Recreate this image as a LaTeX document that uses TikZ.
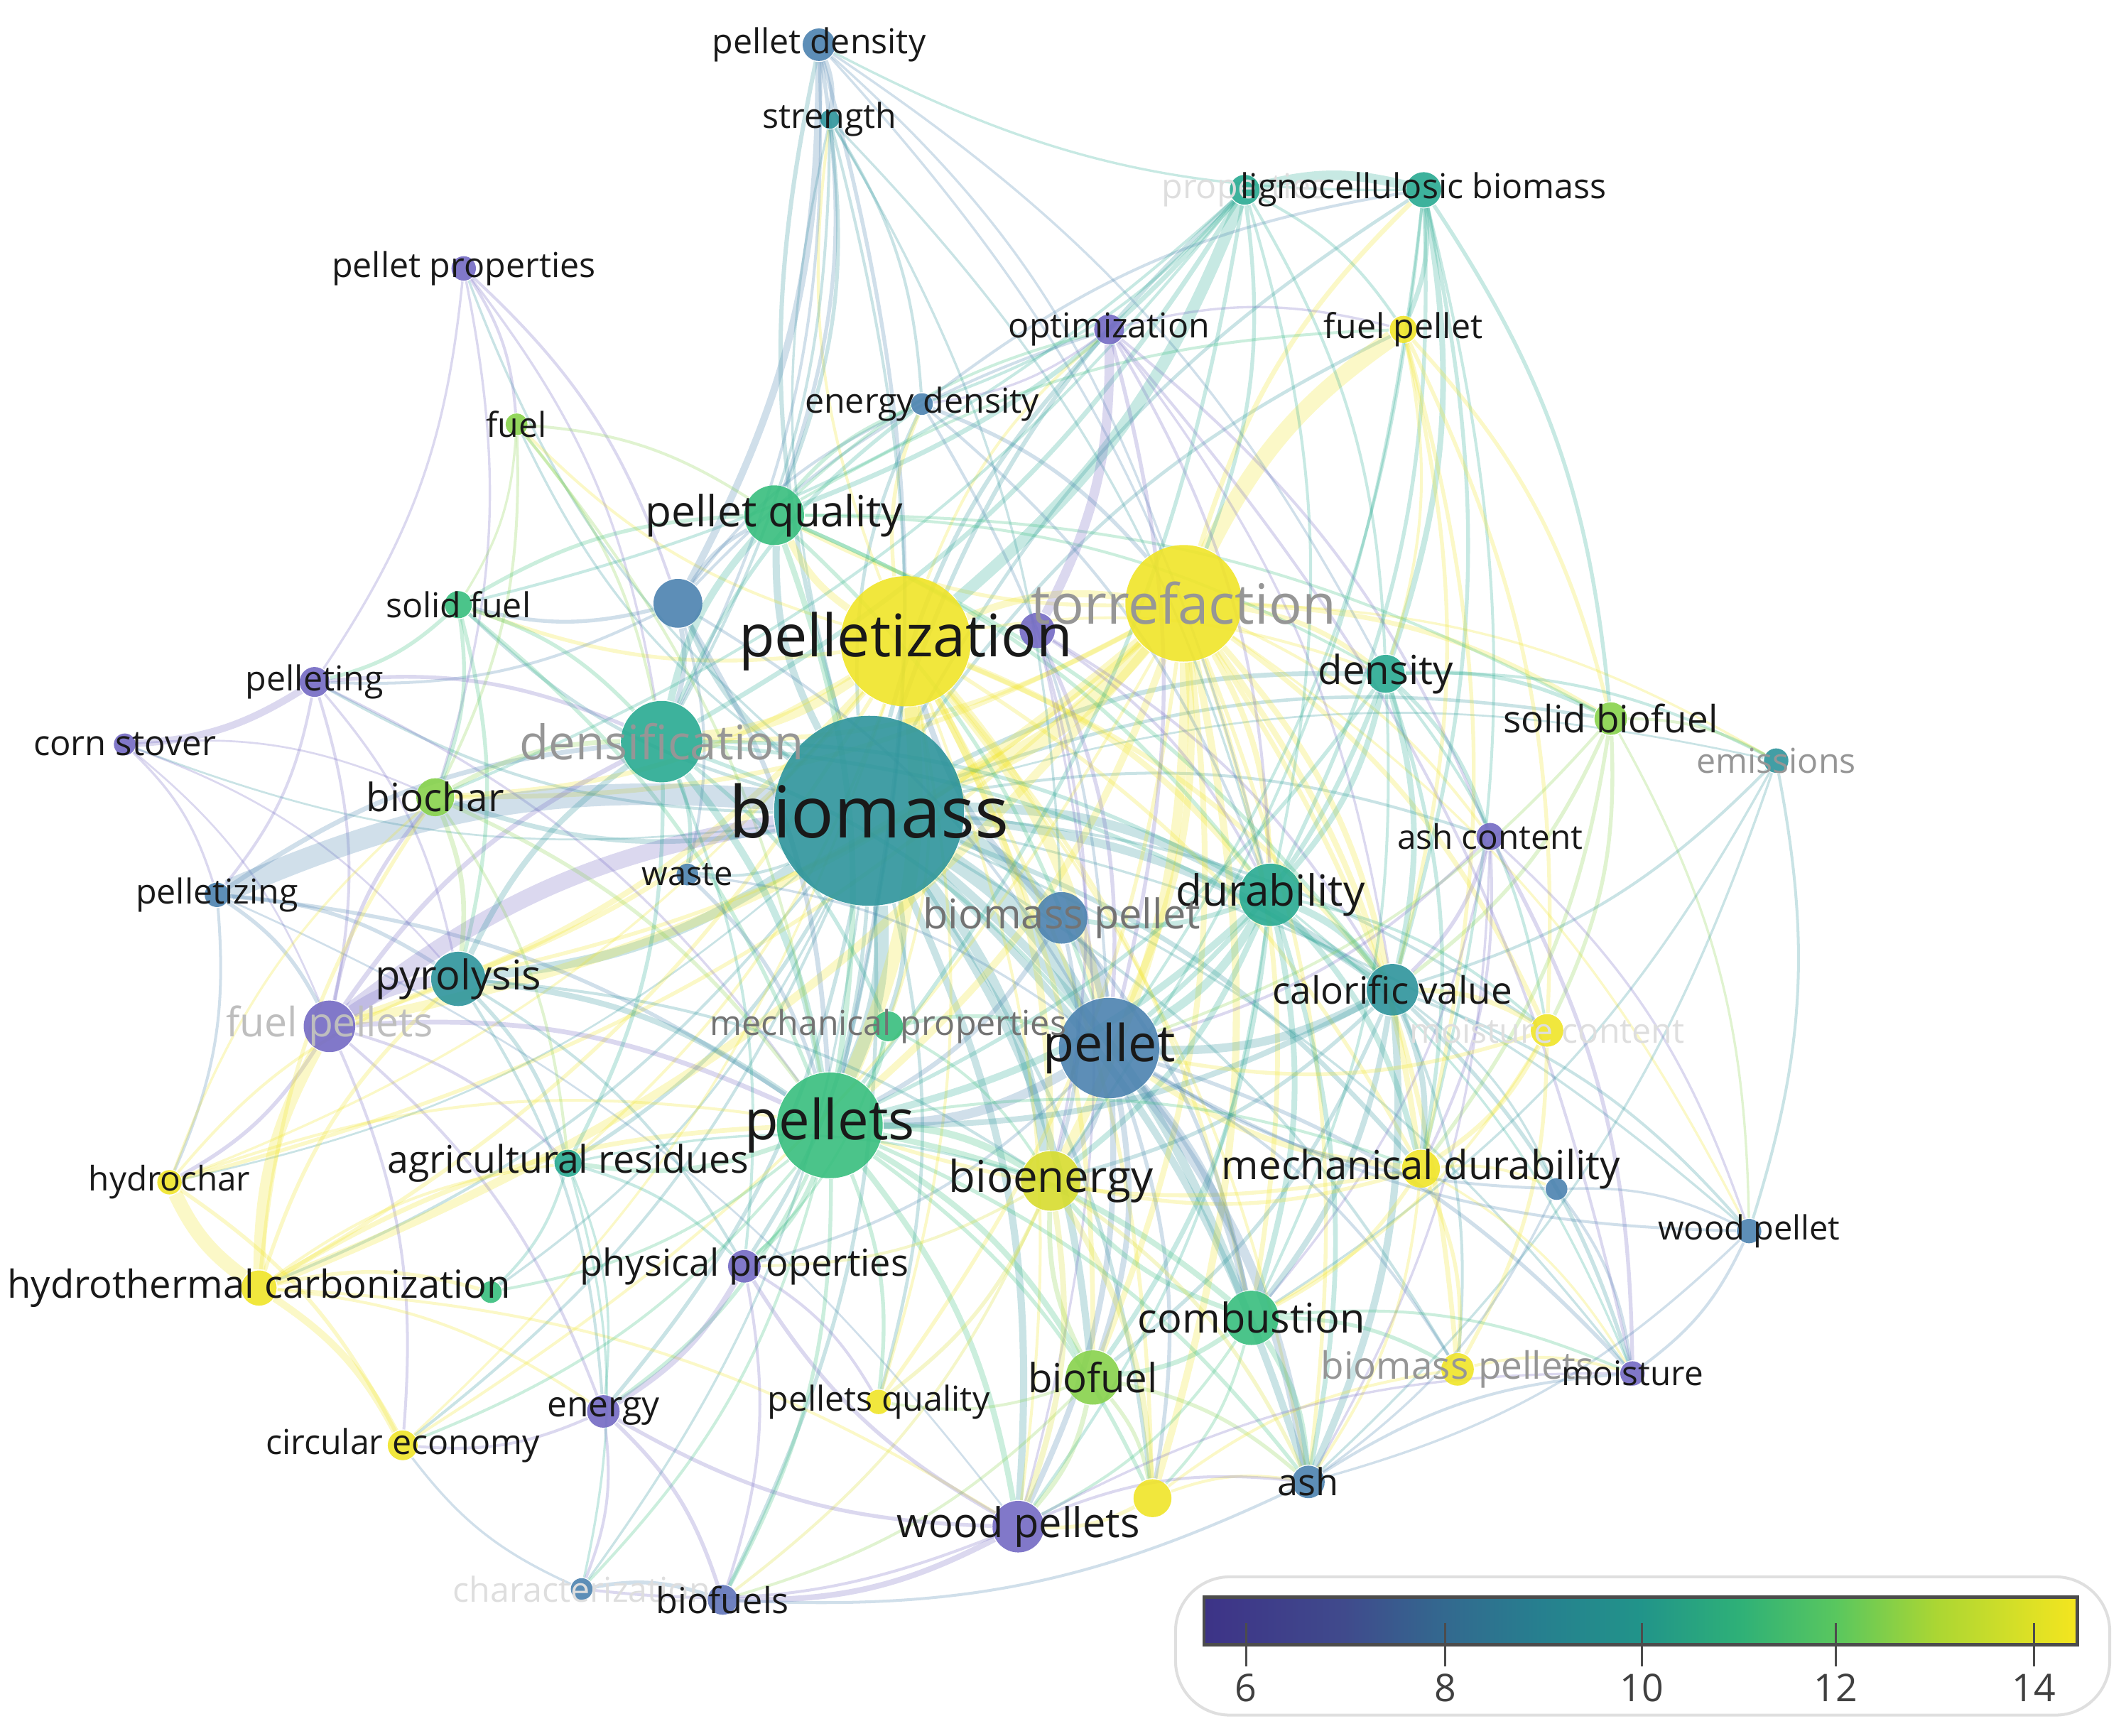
\documentclass[tikz,border=0pt]{standalone}
\usepackage{fontspec}
\setmainfont{Open Sans}
\usetikzlibrary{backgrounds}

% score colours (low = purple, high = yellow)
\definecolor{c1}{RGB}{115,105,195}
\definecolor{c2}{RGB}{95,115,185}
\definecolor{c3}{RGB}{75,130,175}
\definecolor{c4}{RGB}{45,148,155}
\definecolor{c5}{RGB}{40,170,145}
\definecolor{c6}{RGB}{55,190,125}
\definecolor{c7}{RGB}{135,210,75}
\definecolor{c8}{RGB}{215,220,45}
\definecolor{c9}{RGB}{240,228,40}
% label colours
\definecolor{tk}{RGB}{25,25,25}
\definecolor{tm}{RGB}{115,115,115}
\definecolor{tl}{RGB}{150,150,150}
\definecolor{tf}{RGB}{190,190,190}
\definecolor{tv}{RGB}{222,222,222}

\pgfdeclarehorizontalshading{viridis}{100bp}{rgb(0bp)=(0.24,0.2,0.53); rgb(25bp)=(0.24,0.2,0.53); rgb(33bp)=(0.25,0.29,0.55); rgb(38.7bp)=(0.2,0.41,0.56); rgb(44.3bp)=(0.15,0.5,0.56); rgb(50bp)=(0.13,0.58,0.54); rgb(55.6bp)=(0.18,0.69,0.47); rgb(61.2bp)=(0.35,0.78,0.37); rgb(66.9bp)=(0.67,0.84,0.2); rgb(75bp)=(0.96,0.9,0.12); rgb(100bp)=(0.96,0.9,0.12)}

\tikzset{
  kw/.style={circle, inner sep=0pt, draw=none, fill opacity=0.9},
  lk/.style={draw=#1, draw opacity=0.26, bend left=14},
  lab/.style={inner sep=0pt},
}

\begin{document}
\begin{tikzpicture}[x=0.01cm, y=-0.01cm]
\useasboundingbox (0,0) rectangle (1568,1280);

% keywords
\foreach \n/\x/\y/\r/\c in {
  pd/604/33/12/c3, str/612/88/7/c4, prop/918/140/11/c5, lig/1050/140/13/c5,
  pp/342/198/9/c1, opt/818/243/11/c1, fp/1035/243/10/c9, fuel/381/313/8/c7,
  ed/680/298/8/c3, pq/571/380/22/c6, ub/500/445/18/c3, sf/338/446/10/c6,
  plz/668/473/48/c9, up/765/465/13/c1, tor/873/445/43/c9, plt/232/503/11/c1,
  cs/92/549/8/c1, den/488/547/30/c5, bio/641/598/70/c4, dty/1022/497/14/c5,
  sbf/1188/530/12/c7, emi/1310/561/9/c4, bch/321/588/14/c7, pzg/160/660/9/c3,
  wst/507/645/8/c3, ac/1099/617/10/c1, bp/783/677/19/c3, dur/937/660/23/c5,
  pyr/338/722/20/c4, fps/243/757/19/c1, cv/1027/730/19/c4, mc/1141/760/12/c9,
  mp/655/757/11/c6, pel/818/773/37/c3, pels/612/830/39/c6, ar/419/858/10/c5,
  hc/125/872/9/c9, be/775/871/22/c8, md/1048/862/14/c9, ub2/1148/877/8/c3,
  wp/1290/908/9/c3, htc/191/950/13/c9, ug/362/953/8/c6, php/549/934/12/c1,
  com/923/972/20/c6, bf/806/1016/20/c7, bps/1075/1010/12/c9, moi/1204/1013/9/c1,
  ene/445/1041/12/c1, pqs/648/1034/9/c9, ce/297/1066/11/c9, uy/850/1105/14/c9,
  ash/965/1093/12/c3, wps/751/1126/19/c1, cha/429/1172/8/c3, bfs/533/1180/11/c2}
  \node[kw, fill=\c, minimum size=\r*0.2mm] (\n) at (\x,\y) {};

% links
\begin{scope}[on background layer]
\foreach \b/\w in {pd/0.9, str/0.5, prop/0.9, lig/0.7, pp/0.5, opt/0.9, fp/0.7, fuel/0.5, ed/0.7, pq/1.5, ub/1.2, sf/0.7, plt/0.6, cs/0.4, dty/1.0, sbf/0.7, emi/0.4, bch/1.0, wst/0.6, ac/0.6, bp/3.0, dur/2.0, pyr/2.0, cv/1.8, mc/0.6, mp/1.0, pel/3.5, pels/3.0, ar/0.8, hc/0.4, be/2.0, md/1.0, wp/0.5, htc/0.6, ug/0.5, php/0.8, com/1.8, bf/1.5, bps/0.6, moi/0.5, ene/0.8, pqs/0.7, ce/0.6, uy/0.8, ash/1.5, wps/1.5, cha/0.5, bfs/0.8}
  \draw[lk=c4, line width=\w pt] (bio) to (\b);
\foreach \b/\w in {bio/3.5, pq/1.5, den/2.0, pels/3.0, pel/2.5, dur/1.2, cv/1.0, tor/1.5, ed/0.8, str/0.6, fuel/0.6, sf/0.8, bch/1.0, pyr/1.0, fps/1.2, htc/0.8, be/1.5, bf/1.0, com/0.8, md/0.8, ar/0.6, wps/0.6, ash/0.6, mp/0.6, opt/0.6, dty/0.6, uy/0.8, pqs/0.6, ce/0.5, hc/0.5}
  \draw[lk=c9, line width=\w pt] (plz) to (\b);
\foreach \b/\w in {bio/3.5, fp/3.5, lig/1.0, dty/1.0, sbf/1.0, emi/0.5, mc/1.0, md/1.2, bps/1.0, cv/1.2, dur/1.2, pel/1.5, pels/1.5, be/2.0, com/1.0, htc/1.8, hc/0.8, fps/2.0, bch/1.0, pyr/0.8, uy/1.5, ce/0.6, pqs/0.8, ash/0.8, wp/0.5, bf/1.2, ac/0.6, den/1.0, pq/0.8}
  \draw[lk=c9, line width=\w pt] (tor) to (\b);
\foreach \a/\b/\c/\w in {
  prop/plz/c5/2.5, prop/lig/c5/2.0, prop/pq/c5/1.0, prop/den/c5/1.0, prop/sf/c5/0.6, prop/ed/c5/0.6,
  prop/fp/c5/0.6, prop/tor/c5/0.8, prop/dur/c5/0.6, prop/pels/c5/0.8, prop/dty/c5/0.6, prop/bch/c5/0.6,
  lig/fp/c5/1.0, lig/dty/c5/1.2, lig/sbf/c5/0.8, lig/cv/c5/0.8, lig/dur/c5/0.8, lig/pel/c5/0.6,
  lig/md/c5/0.6, lig/pd/c5/0.5, lig/be/c5/0.6,
  pd/str/c3/1.0, pd/ub/c3/1.5, pd/pq/c3/0.8, pd/pels/c3/0.8, pd/dty/c3/0.5, pd/tor/c3/0.5,
  pd/den/c3/0.6, pd/dur/c3/0.5, str/ed/c4/0.6, str/pq/c4/0.8, str/den/c4/0.6, str/pels/c4/0.6,
  str/bp/c4/0.5, str/dur/c4/0.5,
  pp/fuel/c1/0.6, pp/ub/c1/0.6, pp/plt/c1/0.5, pp/den/c1/0.5, pp/bch/c1/0.5,
  fuel/pq/c7/0.6, fuel/sf/c7/0.5, fuel/bch/c7/0.6, fuel/pels/c7/0.6, fuel/den/c7/0.6,
  ub/sf/c3/0.8, ub/opt/c3/0.6, ub/ed/c3/0.6, ub/pels/c3/1.0, ub/den/c3/1.0, ub/wst/c3/0.6,
  ub/plt/c3/0.6, ub/pq/c3/0.8, ub/pel/c3/0.6,
  sf/plt/c6/0.8, sf/bch/c6/0.8, sf/den/c6/0.8, sf/pyr/c6/0.8, sf/pels/c6/0.8, sf/pq/c6/0.8,
  plt/cs/c1/1.5, plt/den/c1/0.8, plt/pzg/c1/0.6, plt/fps/c1/0.6, plt/pels/c1/0.5, plt/pyr/c1/0.5,
  cs/pzg/c1/0.5, cs/bch/c1/0.4, cs/fps/c1/0.4, cs/pyr/c1/0.4,
  pzg/bio/c3/4.5, pzg/den/c3/1.0, pzg/fps/c3/0.8, pzg/pyr/c3/0.8, pzg/hc/c3/0.6, pzg/pels/c3/0.8,
  pzg/wps/c3/0.4,
  fps/bio/c1/3.5, fps/pyr/c1/2.5, fps/hc/c1/0.8, fps/den/c1/1.0, fps/pels/c1/1.0, fps/ar/c1/0.6,
  fps/ene/c1/0.6, fps/bch/c1/0.8, fps/ce/c1/0.6,
  htc/hc/c9/3.0, htc/fps/c9/2.5, htc/ce/c9/1.5, htc/ene/c9/0.6, htc/pyr/c9/0.8, htc/pels/c9/1.0,
  htc/ug/c9/0.8, htc/wps/c9/0.6, htc/ar/c9/0.6, htc/bch/c9/0.8,
  hc/ce/c9/0.8, hc/pyr/c9/0.6, hc/pels/c9/0.6, hc/bch/c9/0.5,
  bch/pyr/c7/1.0, bch/den/c7/1.0, bch/pels/c7/0.8, bch/ar/c7/0.6,
  pyr/den/c4/1.2, pyr/ar/c4/0.8, pyr/pels/c4/1.2, pyr/php/c4/0.6, pyr/ene/c4/0.6, pyr/be/c4/0.6,
  den/pq/c5/1.5, den/wst/c5/0.8, den/ar/c5/0.8, den/pels/c5/1.5, den/mp/c5/0.8, den/ed/c5/0.8,
  den/dur/c5/0.8, den/cv/c5/0.8, den/pel/c5/0.8, den/php/c5/0.6,
  pq/ed/c6/0.8, pq/opt/c6/0.6, pq/dty/c6/0.6, pq/dur/c6/0.8, pq/cv/c6/0.8, pq/pels/c6/1.2,
  pq/pel/c6/0.8, pq/sbf/c6/0.6, pq/fp/c6/0.6,
  opt/up/c1/2.0, opt/ac/c1/0.6, opt/moi/c1/0.6, opt/ed/c1/0.5, opt/pel/c1/0.8, opt/dur/c1/0.6,
  opt/cv/c1/0.5, opt/fp/c1/0.5,
  up/pel/c1/0.8, up/dur/c1/0.6, up/cv/c1/0.6, up/be/c1/0.6, up/wps/c1/0.5,
  ed/tor/c3/0.8, ed/pel/c3/0.6, ed/dur/c3/0.6, ed/lig/c3/0.6,
  fp/sbf/c9/0.8, fp/md/c9/0.8, fp/mc/c9/0.8, fp/cv/c9/0.8, fp/dty/c9/0.6}
  \draw[lk=\c, line width=\w pt] (\a) to (\b);
\foreach \a/\b/\c/\w in {
  dty/dur/c5/1.2, dty/cv/c5/1.2, dty/ac/c5/0.8, dty/sbf/c5/0.8, dty/emi/c5/0.6, dty/pel/c5/1.0,
  dty/md/c5/0.8, dty/com/c5/0.6, dty/pels/c5/0.8, dty/mc/c5/0.6,
  sbf/emi/c7/0.6, sbf/cv/c7/0.8, sbf/md/c7/0.8, sbf/mc/c7/0.8, sbf/pel/c7/0.6, sbf/wp/c7/0.5,
  emi/wp/c4/0.6, emi/cv/c4/0.6, emi/com/c4/0.5, emi/ash/c4/0.5,
  ac/cv/c1/0.8, ac/md/c1/0.6, ac/moi/c1/0.8, ac/wp/c1/0.5, ac/pel/c1/0.6, ac/com/c1/0.5, ac/ash/c1/0.5,
  dur/cv/c5/1.5, dur/md/c5/1.2, dur/com/c5/1.2, dur/ash/c5/1.0, dur/bf/c5/1.0, dur/be/c5/1.2,
  dur/pels/c5/1.5, dur/pel/c5/1.8, dur/bp/c5/1.0, dur/mc/c5/0.6, dur/moi/c5/0.5, dur/wps/c5/0.6,
  cv/md/c4/1.2, cv/com/c4/1.2, cv/ash/c4/1.5, cv/moi/c4/0.8, cv/mc/c9/1.0, cv/wp/c4/0.6,
  cv/pel/c4/1.8, cv/pels/c4/1.2, cv/bf/c4/0.8, cv/be/c4/0.8, cv/bps/c4/0.6, cv/ub2/c4/0.5,
  mc/md/c9/1.0, mc/bps/c9/0.8, mc/pel/c9/0.8, mc/com/c9/0.6,
  md/bps/c9/0.8, md/ub2/c9/0.6, md/com/c9/0.8, md/pel/c9/1.2, md/pels/c9/0.8, md/be/c9/0.8,
  md/ash/c9/0.6, md/moi/c9/0.5,
  ub2/moi/c3/0.6, ub2/wp/c3/0.5, ub2/pel/c3/0.6, ub2/ash/c3/0.5,
  wp/moi/c3/0.6, wp/ash/c3/0.5, wp/pel/c3/0.6,
  bp/pel/c3/2.5, bp/plz/c3/1.2, bp/com/c3/0.8, bp/be/c3/0.8, bp/pels/c3/1.0,
  mp/pels/c6/1.0, mp/pel/c6/0.8, mp/be/c6/0.6, mp/php/c6/0.5, wst/pels/c3/0.8, wst/pel/c3/0.5,
  pel/com/c3/1.5, pel/bf/c3/1.2, pel/be/c3/1.5, pel/ash/c3/2.0, pel/wps/c3/1.2, pel/moi/c3/0.8,
  pel/bps/c3/0.6, pel/uy/c3/0.8, pel/pels/c3/2.0, pel/php/c3/0.6,
  pels/be/c6/1.5, pels/com/c6/1.2, pels/bf/c6/1.2, pels/ar/c6/1.0, pels/php/c6/1.0, pels/ene/c6/0.8,
  pels/wps/c6/1.2, pels/ce/c6/0.6, pels/pqs/c6/0.8, pels/bfs/c6/0.8, pels/cha/c6/0.6, pels/ug/c6/0.6,
  pels/uy/c6/0.8, pels/ash/c6/0.8, pels/md/c6/0.6,
  ar/ug/c5/0.6, ar/php/c5/0.6, ar/cha/c5/0.5, ar/ene/c5/0.5, ar/be/c5/0.5,
  com/bf/c6/1.0, com/ash/c6/1.2, com/bps/c6/0.8, com/moi/c6/0.6, com/be/c6/1.0, com/uy/c6/0.6,
  com/wps/c6/0.6,
  bf/wps/c7/1.0, bf/uy/c7/0.8, bf/be/c7/1.0, bf/ash/c7/0.8, bf/pqs/c7/0.6, bf/bfs/c7/0.6,
  be/wps/c8/1.2, be/uy/c8/1.2, be/ash/c8/0.8, be/pqs/c8/0.8, be/php/c8/0.6, be/bfs/c8/0.6,
  uy/ash/c9/0.6, uy/wps/c9/0.8, uy/bps/c9/0.6,
  wps/bfs/c1/1.2, wps/php/c1/0.8, wps/ene/c1/0.8, wps/cha/c1/0.6, wps/ash/c1/0.6, wps/moi/c1/0.5,
  php/ene/c1/1.2, php/pqs/c1/0.6, php/bfs/c1/0.6, ene/bfs/c1/0.8, ene/ce/c1/0.6, ene/cha/c1/0.6,
  cha/bfs/c3/0.8, cha/ce/c3/0.5, ash/moi/c3/0.6, ash/bfs/c3/0.6, bps/moi/c9/0.6}
  \draw[lk=\c, line width=\w pt] (\a) to (\b);
\end{scope}

% labels
\foreach \n/\t/\s/\k in {
  bio/biomass/15/tk, plz/pelletization/12.3/tk, tor/torrefaction/11.6/tl, pels/pellets/11.6/tk,
  pel/pellet/10.7/tk, den/densification/10/tl, pq/pellet quality/9/tk, dur/durability/9/tk,
  be/bioenergy/9.2/tk, com/combustion/8.6/tk, bf/biofuel/8.4/tk, wps/wood pellets/8.6/tk,
  pyr/pyrolysis/8.6/tk, cv/calorific value/7.9/tk, dty/density/8.4/tk, bch/biochar/8.2/tk,
  sbf/solid biofuel/7.9/tk, md/mechanical durability/8.4/tk, ar/agricultural residues/8/tk,
  htc/hydrothermal carbonization/8.1/tk, php/physical properties/7.8/tk,
  mp/mechanical properties/7.2/tm, bp/biomass pellet/8.6/tm, fps/fuel pellets/8.5/tf,
  bps/biomass pellets/7.9/tl, mc/moisture content/7.2/tv, prop/properties/7.2/tv,
  emi/emissions/7.2/tl, cha/characterization/7.2/tv, pd/pellet density/7.2/tk,
  str/strength/7.2/tk, lig/lignocellulosic biomass/7.2/tk, pp/pellet properties/7.2/tk,
  opt/optimization/7.2/tk, fp/fuel pellet/7.2/tk, fuel/fuel/7.2/tk, ed/energy density/7.2/tk,
  sf/solid fuel/7.2/tk, plt/pelleting/7.2/tk, cs/corn stover/7.3/tk, pzg/pelletizing/7.2/tk,
  wst/waste/7/tk, ac/ash content/7.1/tk, hc/hydrochar/7.1/tk, wp/wood pellet/7/tk,
  moi/moisture/7.1/tk, ene/energy/7.4/tk, pqs/pellets quality/7.2/tk, ce/circular economy/7.2/tk,
  ash/ash/7.8/tk, bfs/biofuels/7.5/tk}
  \node[lab, font=\fontsize{\s}{\s}\selectfont, text=\k] (\n-l) at (\n) {\t};

% colour legend
\draw[gray!25, line width=0.6pt, fill=white, rounded corners=4mm] (867,1163) rectangle (1556,1265);
\shade[shading=viridis] (888,1178) rectangle (1532,1213);
\draw[gray!60!black, line width=0.7pt] (888,1178) rectangle (1532,1213);
\foreach \v/\x in {6/919, 8/1066, 10/1211, 12/1354, 14/1500} {
  \draw[gray!60!black, line width=0.5pt] (\x,1197) -- (\x,1229);
  \node[lab, font=\fontsize{8}{8}\selectfont, text=black!75] (t\v) at (\x,1245) {\v};
}
\end{tikzpicture}
\end{document}
